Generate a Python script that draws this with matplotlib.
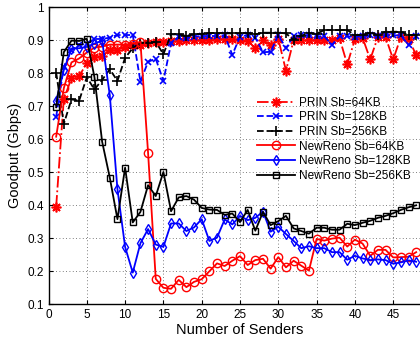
import matplotlib
matplotlib.use("Agg")
import matplotlib.pyplot as plt
import numpy as np

plt.rcParams['font.family'] = ['Liberation Sans', 'DejaVu Sans']

senders = list(range(1, 49))

prin_64 = [0.396, 0.722, 0.785, 0.792, 0.830, 0.850, 0.852, 0.871, 0.871, 0.881,
           0.886, 0.887, 0.892, 0.894, 0.895, 0.898, 0.898, 0.900, 0.900, 0.900,
           0.902, 0.903, 0.903, 0.905, 0.900, 0.897, 0.876, 0.900, 0.886, 0.904,
           0.808, 0.900, 0.900, 0.900, 0.900, 0.900, 0.900, 0.906, 0.827, 0.903,
           0.908, 0.842, 0.910, 0.910, 0.842, 0.910, 0.905, 0.855]
prin_128 = [0.668, 0.820, 0.870, 0.885, 0.890, 0.904, 0.904, 0.908, 0.916, 0.916,
            0.916, 0.775, 0.835, 0.844, 0.777, 0.891, 0.911, 0.906, 0.911, 0.913,
            0.913, 0.913, 0.915, 0.856, 0.911, 0.916, 0.908, 0.864, 0.865, 0.916,
            0.876, 0.913, 0.915, 0.916, 0.912, 0.912, 0.886, 0.912, 0.912, 0.910,
            0.912, 0.915, 0.912, 0.916, 0.915, 0.915, 0.885, 0.912]
prin_256 = [0.802, 0.647, 0.721, 0.717, 0.788, 0.751, 0.780, 0.812, 0.777, 0.847,
            0.876, 0.893, 0.893, 0.895, 0.858, 0.918, 0.918, 0.913, 0.918, 0.920,
            0.922, 0.922, 0.921, 0.921, 0.921, 0.921, 0.918, 0.923, 0.923, 0.923,
            0.921, 0.901, 0.914, 0.921, 0.920, 0.931, 0.931, 0.931, 0.931, 0.916,
            0.916, 0.923, 0.916, 0.926, 0.926, 0.926, 0.916, 0.916]
newreno_64 = [0.608, 0.755, 0.833, 0.845, 0.863, 0.878, 0.881, 0.887, 0.887, 0.887,
              0.890, 0.895, 0.559, 0.177, 0.150, 0.147, 0.174, 0.152, 0.168, 0.176,
              0.200, 0.224, 0.216, 0.232, 0.246, 0.219, 0.234, 0.238, 0.208, 0.243,
              0.212, 0.232, 0.217, 0.202, 0.298, 0.293, 0.299, 0.302, 0.275, 0.296,
              0.284, 0.247, 0.265, 0.265, 0.242, 0.243, 0.244, 0.258]
newreno_128 = [0.716, 0.810, 0.875, 0.876, 0.880, 0.890, 0.899, 0.734, 0.449, 0.274,
               0.196, 0.285, 0.328, 0.281, 0.274, 0.345, 0.345, 0.322, 0.333, 0.358,
               0.292, 0.302, 0.357, 0.342, 0.368, 0.355, 0.362, 0.381, 0.320, 0.335,
               0.313, 0.292, 0.270, 0.276, 0.270, 0.270, 0.258, 0.258, 0.235, 0.247,
               0.239, 0.234, 0.236, 0.234, 0.223, 0.227, 0.233, 0.229]
newreno_256 = [0.697, 0.864, 0.899, 0.898, 0.905, 0.788, 0.593, 0.484, 0.358, 0.514,
               0.348, 0.380, 0.461, 0.428, 0.501, 0.382, 0.424, 0.428, 0.417, 0.392,
               0.387, 0.386, 0.371, 0.375, 0.349, 0.386, 0.323, 0.380, 0.340, 0.352,
               0.368, 0.330, 0.322, 0.314, 0.332, 0.332, 0.326, 0.326, 0.344, 0.340,
               0.347, 0.353, 0.362, 0.368, 0.376, 0.386, 0.394, 0.400]

x_ticks = [0, 5, 10, 15, 20, 25, 30, 35, 40, 45, 50]
x_tick_labels = ["0", "5", "10", "15", "20", "25", "30", "35", "40", "45", ""]
y_ticks = [0.1, 0.2, 0.3, 0.4, 0.5, 0.6, 0.7, 0.8, 0.9, 1.0]
y_tick_labels = ["0.1", "0.2", "0.3", "0.4", "0.5", "0.6", "0.7", "0.8", "0.9", "1"]

# asterisk marker: 8 thin spokes
asterisk = (8, 2, 0)

series = [
    ("PRIN Sb=64KB", prin_64, "red", "-.", asterisk, 7),
    ("PRIN Sb=128KB", prin_128, "blue", "--", "x", 5),
    ("PRIN Sb=256KB", prin_256, "black", "--", "+", 7),
    ("NewReno Sb=64KB", newreno_64, "red", "-", "o", 6),
    ("NewReno Sb=128KB", newreno_128, "blue", "-", "d", 5),
    ("NewReno Sb=256KB", newreno_256, "black", "-", "s", 4.5),
]

fig = plt.figure(figsize=(4.2, 3.42), dpi=100)
ax_w = 50 * 7.66 / 420
ax = fig.add_axes([48.5 / 420, 37.7 / 342, ax_w, 297 / 342])

for label, vals, color, ls, mk, ms in series:
    hollow = mk in ("o", "d", "s")
    ax.plot(senders, vals, color=color, linestyle=ls, marker=mk, markersize=ms,
            markerfacecolor="none" if hollow else color,
            markeredgecolor=color, markeredgewidth=1.2 if not hollow else 1.0,
            linewidth=1.3, label=label)

ax.set_xlim(0, 50)
ax.set_ylim(0.1, 1.0)
ax.set_xticks(x_ticks)
ax.set_xticklabels(x_tick_labels)
ax.set_yticks(y_ticks)
ax.set_yticklabels(y_tick_labels)
ax.tick_params(direction="in", labelsize=8.5, length=3, top=True, right=True)
ax.grid(True, linestyle=(0, (1, 3)), color="#555555", linewidth=0.6)
for sp in ax.spines.values():
    sp.set_linewidth(1.0)

ax.set_xlabel("Number of Senders", fontsize=10.5, labelpad=1)
ax.set_ylabel("Goodput (Gbps)", fontsize=10.5, labelpad=4)

leg = ax.legend(loc="upper left", frameon=False, fontsize=8.5,
                labelspacing=0.22, handlelength=3.2, handletextpad=0.4, borderaxespad=0)
leg.set_bbox_to_anchor(((252 - 48.5) / (ax_w * 420), 1 - (92 - 7.3) / 297), transform=ax.transAxes)

fig.savefig("out.png", dpi=100)
